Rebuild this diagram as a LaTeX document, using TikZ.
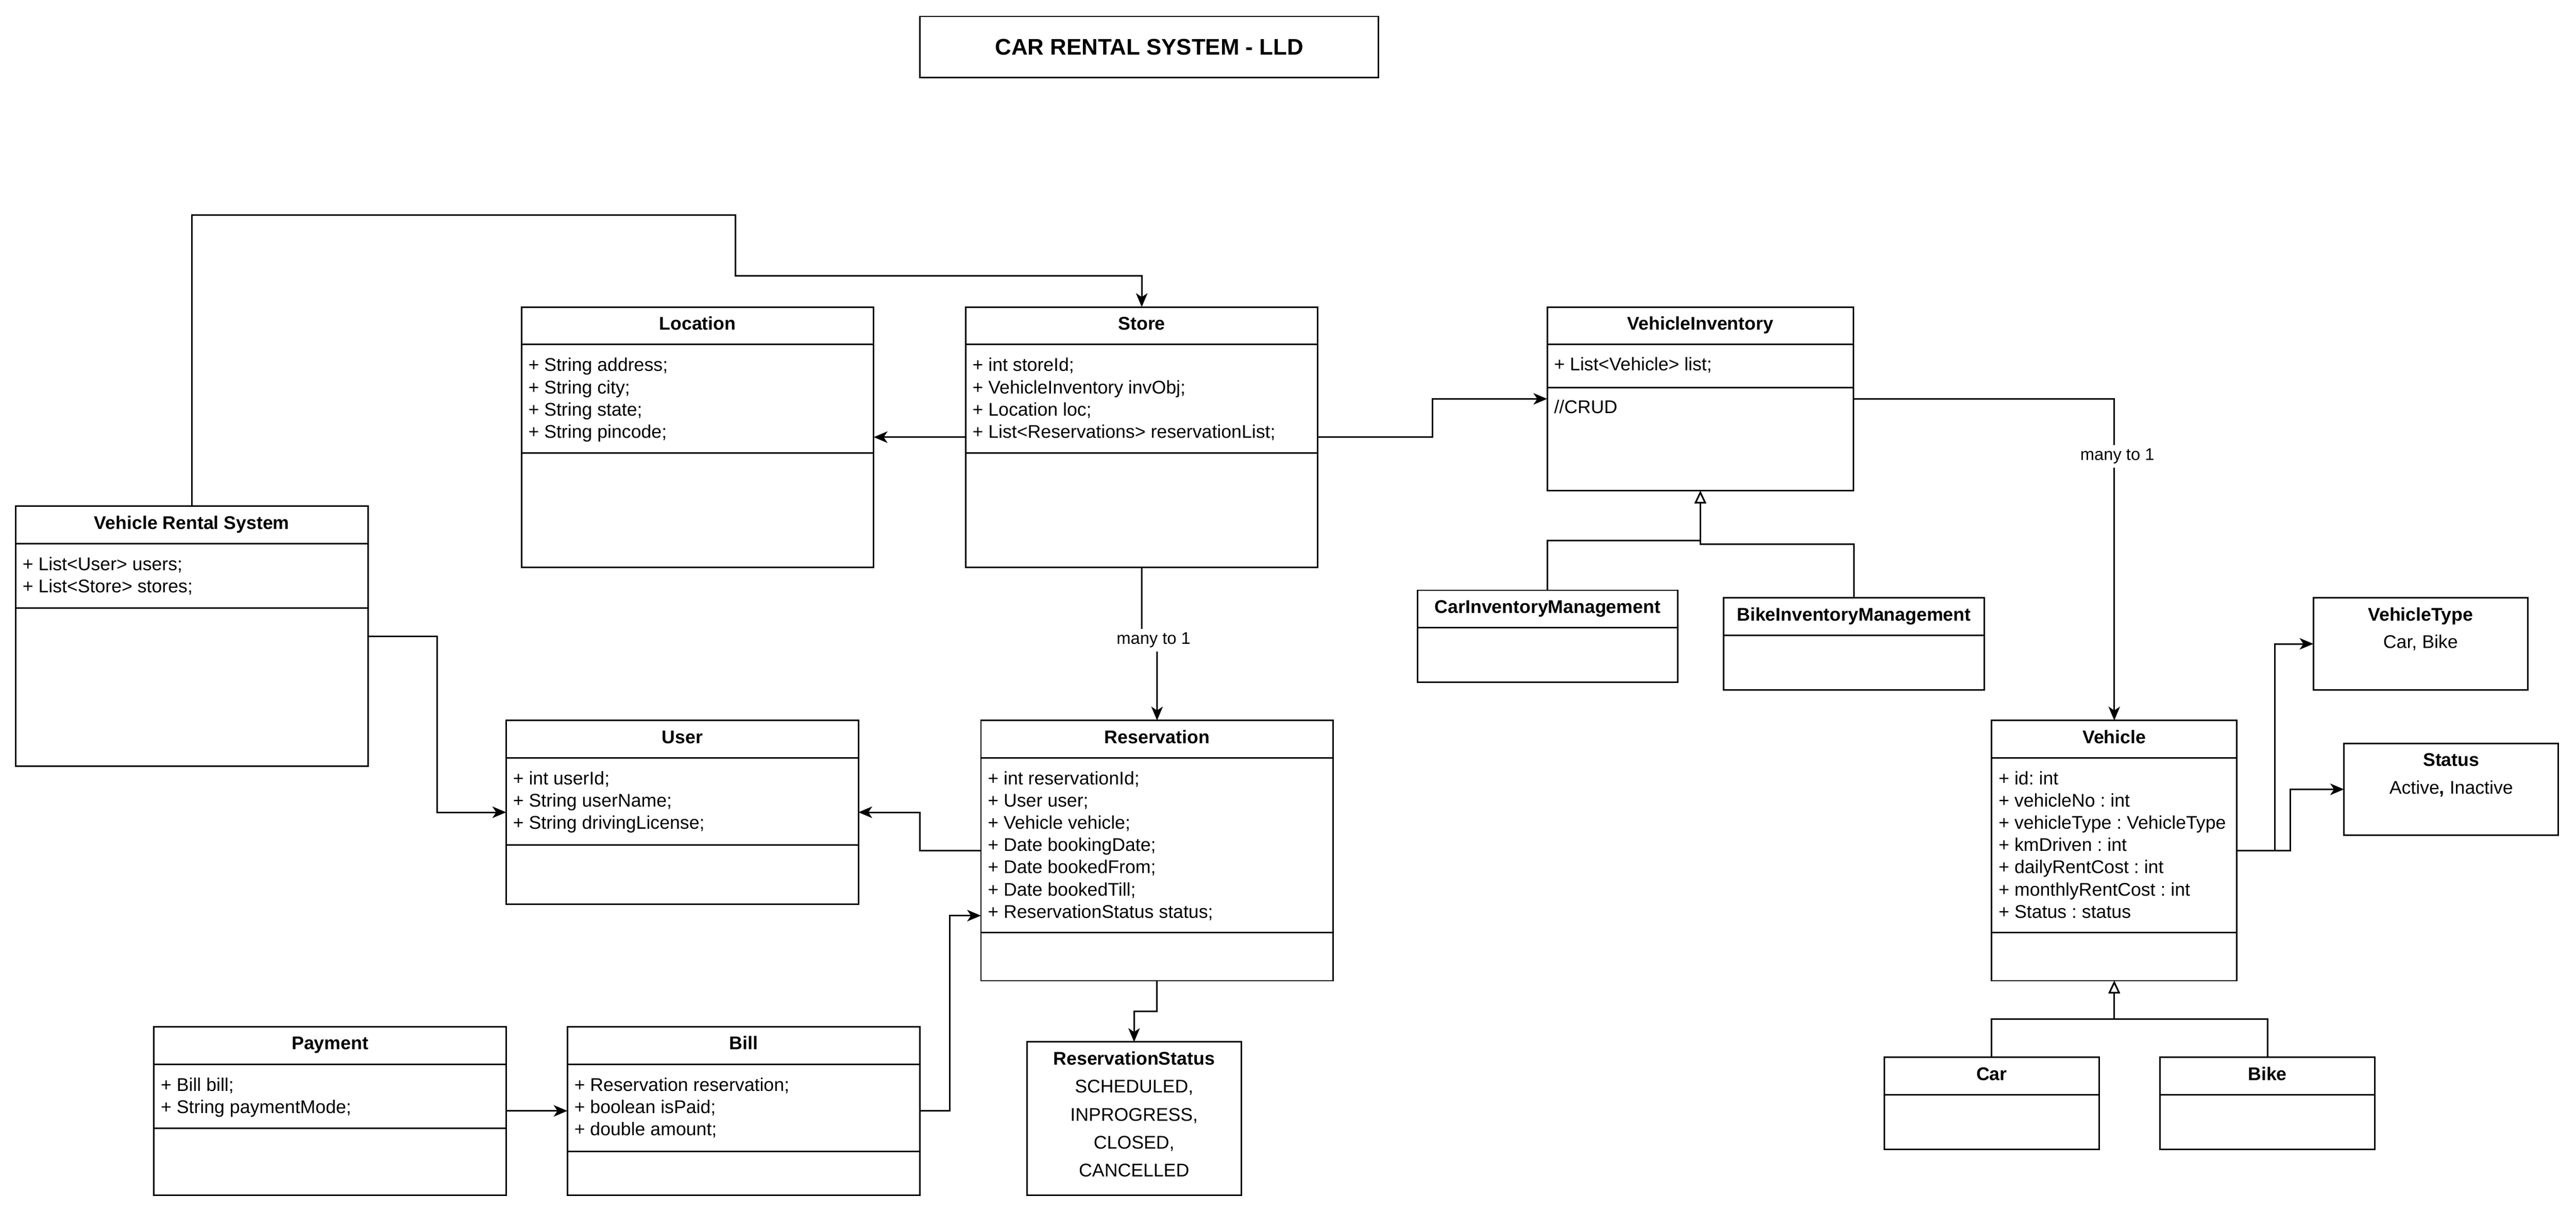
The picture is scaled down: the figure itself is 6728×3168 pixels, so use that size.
\documentclass[tikz,border=0pt]{standalone}
\usepackage{fontspec}
\setmainfont{Liberation Sans}
\usetikzlibrary{arrows.meta}
\frenchspacing
\newcommand\attrfont{\fontsize{4.8}{5.8}\selectfont}
\newcommand\headfont{\fontsize{4.8}{5.8}\selectfont\bfseries}
\newcommand\enumfont{\fontsize{4.8}{7.3}\selectfont}
\newcommand\lblfont{\fontsize{4.4}{5.3}\selectfont}
\newcommand\titlefont{\fontsize{5.9}{7}\selectfont\bfseries}
\newcommand\stx{\rule{0pt}{3.6pt}}
\begin{document}
\begin{tikzpicture}[x=0.1pt,y=-0.1pt,line width=0.4pt,
  box/.style={draw, rectangle, inner sep=0pt, outer sep=0pt, anchor=north west, fill=white},
  head/.style={anchor=base, inner sep=0pt, font=\headfont},
  attr/.style={anchor=north west, inner sep=0pt, align=left, font=\attrfont},
  enumtext/.style={anchor=north, inner sep=0pt, align=center, font=\enumfont},
  conn/.style={-{Stealth[length=3.6pt,width=3pt,inset=1pt]}},
  inherit/.style={-{Triangle[open,length=3.3pt,width=3pt,fill=white]}},
  lbl/.style={fill=white, inner sep=1pt, font=\lblfont}]
\useasboundingbox (0,0) rectangle (6728,3168);

% title
\node[draw, inner sep=0pt, outer sep=0pt, minimum width=119.7pt, minimum height=15.9pt, font=\titlefont] (title) at (3001.5,122.5) {CAR RENTAL SYSTEM - LLD};

% Location
\node[box, minimum width=92pt, minimum height=68pt] (loc) at (1362,802) {};
\draw (1362,900) -- (2282,900); \draw (1362,1184) -- (2282,1184);
\node[head] (loct) at (1822,862) {Location};
\node[attr] (loca) at (1378,932) {\stx+ String address;\\+ String city;\\+ String state;\\+ String pincode;};

% Store
\node[box, minimum width=92pt, minimum height=68pt] (store) at (2522,802) {};
\draw (2522,900) -- (3442,900); \draw (2522,1184) -- (3442,1184);
\node[head] (storet) at (2982,862) {Store};
\node[attr] (storea) at (2538,932) {\stx+ int storeId;\\+ VehicleInventory invObj;\\+ Location loc;\\+ List<Reservations> reservationList;};

% VehicleInventory
\node[box, minimum width=80pt, minimum height=48pt] (vi) at (4041,802) {};
\draw (4041,900) -- (4841,900); \draw (4041,1012) -- (4841,1012);
\node[head] (vit) at (4441,862) {VehicleInventory};
\node[attr] (via) at (4057,930) {\stx+ List<Vehicle> list;};
\node[attr] (vim) at (4057,1042) {\stx//CRUD};

% CarInventoryManagement
\node[box, minimum width=68pt, minimum height=24pt] (carim) at (3702,1542) {};
\draw (3702,1640) -- (4382,1640);
\node[head] (carimt) at (4042,1602) {CarInventoryManagement};

% BikeInventoryManagement
\node[box, minimum width=68pt, minimum height=24pt] (bikeim) at (4502,1562) {};
\draw (4502,1660) -- (5182,1660);
\node[head] (bikeimt) at (4842,1622) {BikeInventoryManagement};

% Vehicle Rental System
\node[box, minimum width=92pt, minimum height=68pt] (vrs) at (41,1322) {};
\draw (41,1420) -- (961,1420); \draw (41,1588) -- (961,1588);
\node[head] (vrst) at (501,1382) {Vehicle Rental System};
\node[attr] (vrsa) at (57,1452) {\stx+ List<User> users;\\+ List<Store> stores;};

% User
\node[box, minimum width=92pt, minimum height=48pt] (user) at (1322,1882) {};
\draw (1322,1980) -- (2242,1980); \draw (1322,2208) -- (2242,2208);
\node[head] (usert) at (1782,1942) {User};
\node[attr] (usera) at (1338,2012) {\stx+ int userId;\\+ String userName;\\+ String drivingLicense;};

% Reservation
\node[box, minimum width=92pt, minimum height=68pt] (res) at (2562,1882) {};
\draw (2562,1980) -- (3482,1980); \draw (2562,2436) -- (3482,2436);
\node[head] (rest) at (3022,1942) {Reservation};
\node[attr] (resa) at (2578,2012) {\stx+ int reservationId;\\+ User user;\\+ Vehicle vehicle;\\+ Date bookingDate;\\+ Date bookedFrom;\\+ Date bookedTill;\\+ ReservationStatus status;};

% Payment
\node[box, minimum width=92pt, minimum height=44pt] (pay) at (402,2682) {};
\draw (402,2780) -- (1322,2780); \draw (402,2948) -- (1322,2948);
\node[head] (payt) at (862,2742) {Payment};
\node[attr] (paya) at (418,2812) {\stx+ Bill bill;\\+ String paymentMode;};

% Bill
\node[box, minimum width=92pt, minimum height=44pt] (bill) at (1482,2682) {};
\draw (1482,2780) -- (2402,2780); \draw (1482,3008) -- (2402,3008);
\node[head] (billt) at (1942,2742) {Bill};
\node[attr] (billa) at (1498,2812) {\stx+ Reservation reservation;\\+ boolean isPaid;\\+ double amount;};

% ReservationStatus
\node[box, minimum width=56pt, minimum height=40pt] (rs) at (2682,2722) {};
\node[enumtext] (rst) at (2962,2744) {\stx\textbf{ReservationStatus}\\SCHEDULED,\\INPROGRESS,\\CLOSED,\\CANCELLED};

% Vehicle
\node[box, minimum width=64pt, minimum height=68pt] (veh) at (5202,1882) {};
\draw (5202,1980) -- (5842,1980); \draw (5202,2436) -- (5842,2436);
\node[head] (veht) at (5522,1942) {Vehicle};
\node[attr] (veha) at (5218,2012) {\stx+ id: int\\+ vehicleNo : int\\+ vehicleType : VehicleType\\+ kmDriven : int\\+ dailyRentCost : int\\+ monthlyRentCost : int\\+ Status : status};

% VehicleType
\node[box, minimum width=56pt, minimum height=24pt] (vt) at (6042,1562) {};
\node[enumtext, font=\fontsize{4.8}{7.2}\selectfont] (vtt) at (6322,1584) {\stx\textbf{VehicleType}\\Car, Bike};

% Status
\node[box, minimum width=56pt, minimum height=24pt] (st) at (6122,1942) {};
\node[enumtext] (stt) at (6402,1963) {\stx\textbf{Status}\\Active\textbf{,} Inactive};

% Car, Bike
\node[box, minimum width=56pt, minimum height=24pt] (car) at (4922,2762) {};
\draw (4922,2860) -- (5482,2860);
\node[head] (cart) at (5202,2822) {Car};
\node[box, minimum width=56pt, minimum height=24pt] (bike) at (5642,2762) {};
\draw (5642,2860) -- (6202,2860);
\node[head] (biket) at (5922,2822) {Bike};

% connectors
\draw[conn] (vrs.north) |- (1921,562) -- (1921,721) -| (store.north);
\draw[conn] (store.west) -- (loc.east);
\draw[conn] (store.east) -- ++(299,0) |- (vi.west);
\draw[conn] (store.south) |- (3022,1672) -- (res.north);
\node[lbl] (lbl1) at (3013,1672) {many to 1};
\draw[conn] (vi.east) -| (veh.north);
\node[lbl] (lbl2) at (5530,1192) {many to 1};
\draw[conn] (vrs.east) -- ++(181,0) |- (user.west);
\draw[conn] (res.west) -- ++(-159,0) |- (user.east);
\draw[conn] (pay.east) -- (bill.west);
\draw[conn] (bill.east) -- ++(79,0) |- ([yshift=-17pt]res.west);
\draw[conn] (res.south) -- ++(0,80) -| (rs.north);
\draw[inherit] (carim.north) |- ([yshift=-13pt]vi.south) -- (vi.south);
\draw[inherit] (bikeim.north) |- ([yshift=-14pt]vi.south) -- (vi.south);
\draw[conn] (veh.east) -- ++(99,0) |- (vt.west);
\draw[conn] (veh.east) -- ++(140,0) |- (st.west);
\draw[inherit] (car.north) |- ([yshift=-10pt]veh.south) -- (veh.south);
\draw[inherit] (bike.north) |- ([yshift=-10pt]veh.south) -- (veh.south);
\end{tikzpicture}
\end{document}
